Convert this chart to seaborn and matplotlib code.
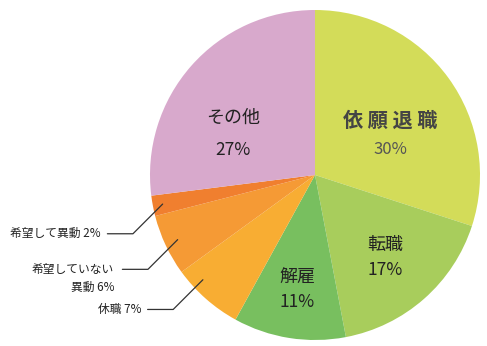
import numpy as np
import matplotlib
matplotlib.use("Agg")
import matplotlib.pyplot as plt
import seaborn as sns

sns.set_theme(style="white")
plt.rcParams['font.family'] = ['Noto Sans CJK JP', 'DejaVu Sans']

categories = ["依願退職", "転職", "解雇", "休職", "希望していない\n異動", "希望して異動", "その他"]
values = [30, 17, 11, 7, 6, 2, 27]
colors = ["#d3dc59", "#a8cd5c", "#78bf5f", "#f8ad33", "#f59a35", "#f07f2f", "#d8a9cc"]

fig = plt.figure(figsize=(4.87, 3.46), dpi=100)
ax = fig.add_axes([150/487, 6/346, 330/487, 330/346])
ax.pie(values, colors=colors, startangle=90, counterclock=False, radius=1,
       wedgeprops=dict(edgecolor="none"))
ax.set_xlim(-1, 1)
ax.set_ylim(-1, 1)
ax.set_aspect("equal")
ax.axis("off")

def px(x, y):
    return ((x - 315) / 165, (175 - y) / 165)

# inner labels
x, y = px(390, 120)
ax.text(x, y, "依 願 退 職", ha="center", va="center", fontsize=14.5, fontweight="bold", color="#444444")
x, y = px(390, 150)
ax.text(x, y, f"{values[0]}%", ha="center", va="center", fontsize=12, color="#555555")
x, y = px(233, 118)
ax.text(x, y, categories[6], ha="center", va="center", fontsize=13, color="#222222")
x, y = px(233, 150)
ax.text(x, y, f"{values[6]}%", ha="center", va="center", fontsize=12.5, color="#222222")
x, y = px(385, 245)
ax.text(x, y, categories[1], ha="center", va="center", fontsize=13, color="#222222")
x, y = px(385, 270)
ax.text(x, y, f"{values[1]}%", ha="center", va="center", fontsize=12.5, color="#222222")
x, y = px(297, 278)
ax.text(x, y, categories[2], ha="center", va="center", fontsize=13, color="#222222")
x, y = px(297, 302)
ax.text(x, y, f"{values[2]}%", ha="center", va="center", fontsize=12.5, color="#222222")

# outer labels with leader lines
cum = np.cumsum([0] + values)
total = sum(values)
radii = {3: 0.93, 4: 0.92, 5: 0.94}
fracs = {3: 0.72, 4: 0.5, 5: 0.5}
for i in [3, 4, 5]:
    pos = (cum[i] + fracs[i] * values[i]) / total
    ang = np.deg2rad(90 - pos * 360)
    r = radii[i]
    ax0, ay0 = r * np.cos(ang), r * np.sin(ang)
    ex, ey = ax0 - 0.18, ay0 - 0.18
    hx = ex - 0.155
    ax.plot([ax0, ex, hx], [ay0, ey, ey], color="#333333", lw=0.9, clip_on=False)
    if i == 4:
        ax.text(hx - 0.05, ey, "希望していない", ha="right", va="center", fontsize=8.5, color="#222222")
        ax.text(hx - 0.05, ey - 0.11, f"異動 {values[i]}%", ha="right", va="center", fontsize=8.5, color="#222222")
    else:
        ax.text(hx - 0.04, ey, f"{categories[i]} {values[i]}%", ha="right", va="center", fontsize=8.5, color="#222222")

fig.savefig("out.png", dpi=100)
